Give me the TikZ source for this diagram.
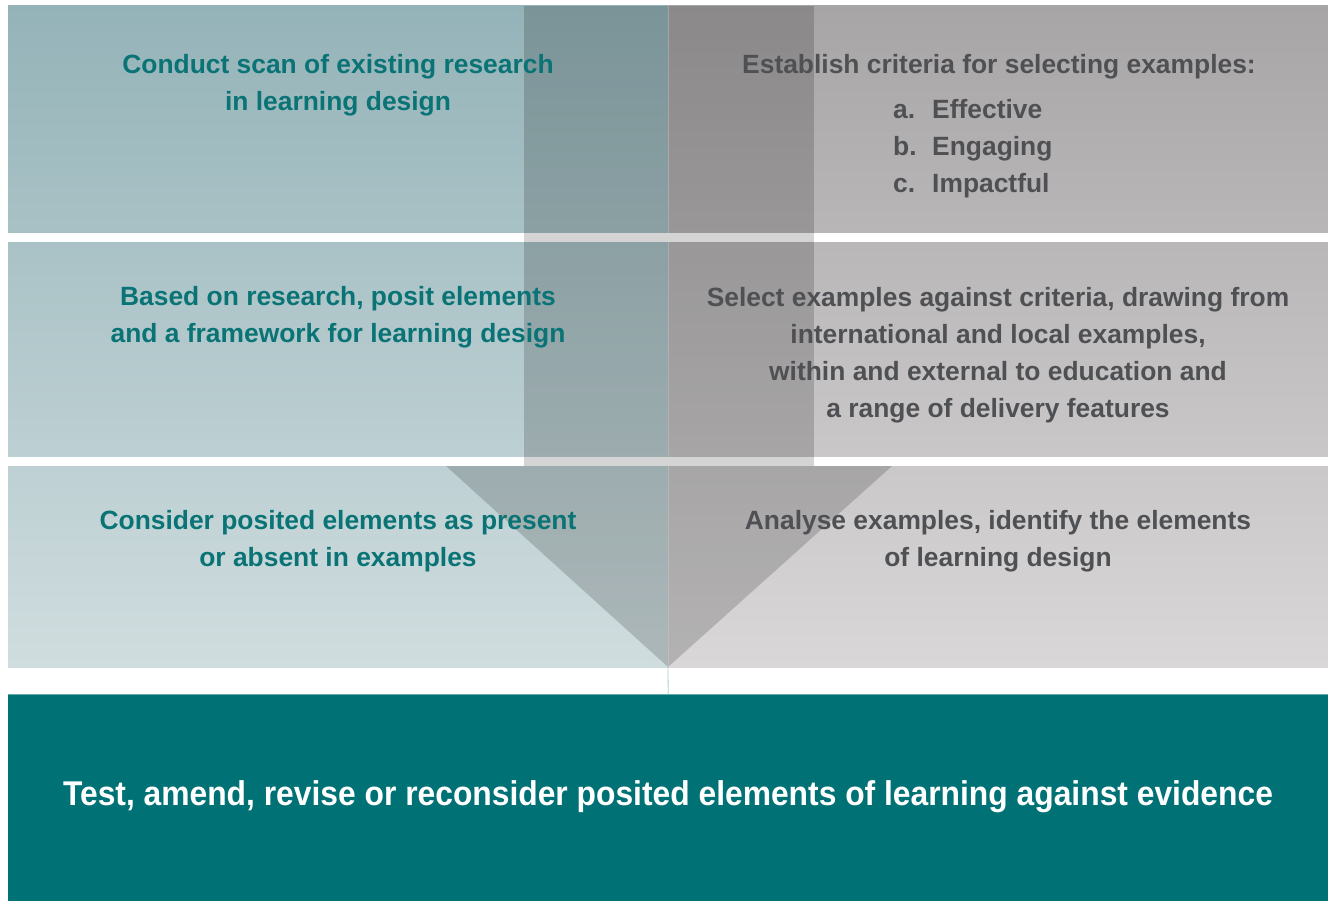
\documentclass[tikz,border=0pt]{standalone}
\usepackage{fontspec}
\usepackage{graphicx}
\setmainfont{Liberation Sans}
\definecolor{lefttop}{HTML}{94B3B8}
\definecolor{leftbot}{HTML}{D0DDDF}
\definecolor{righttop}{HTML}{A8A5A6}
\definecolor{rightbot}{HTML}{D9D7D8}
\definecolor{tealtext}{HTML}{0A7375}
\definecolor{graytext}{HTML}{4F5053}
\definecolor{tealbar}{HTML}{007275}
\definecolor{tipline}{HTML}{A9D0D3}
\tikzset{
  lefttext/.style={text=tealtext, font=\fontsize{26.4}{37}\selectfont\bfseries, align=center, inner sep=0pt},
  righttext/.style={text=graytext, font=\fontsize{26.4}{37}\selectfont\bfseries, align=center, inner sep=0pt},
  listtext/.style={text=graytext, font=\fontsize{26.4}{37}\selectfont\bfseries, align=left, inner sep=0pt, anchor=west},
  bartext/.style={text=white, font=\fontsize{31.8}{38}\selectfont\bfseries, inner sep=0pt},
  overlay/.style={fill=black, fill opacity=0.17},
}
\newcommand{\itm}[2]{\makebox[39pt][l]{#1}#2}
\begin{document}
\begin{tikzpicture}[x=1pt,y=-1pt]
\useasboundingbox (0,0) rectangle (1328,901);
\fill[white] (0,0) rectangle (1328,901);
% columns
\shade[top color=lefttop, bottom color=leftbot] (8,6) rectangle (668,667);
\shade[top color=righttop, bottom color=rightbot] (668,6) rectangle (1328,667);
% gaps between rows
\fill[white] (0,233) rectangle (1328,242);
\fill[white] (0,457) rectangle (1328,466);
% faint divider
\draw[white, opacity=0.35, line width=0.8pt] (668,6) -- (668,667);
% arrow overlay
\fill[overlay] (524,6) rectangle (814,466);
\coordinate (tip) at (668,667);
\fill[overlay] (446,466) -- (892,466) -- (tip) -- cycle;
% bottom bar
\node[fill=tealbar, minimum width=1320pt, minimum height=207pt, inner sep=0pt, anchor=north west] (bar) at (8,694) {};
\draw[tipline, line width=0.8pt] (tip) -- (bar.north);
\draw[tealbar!60!white, line width=0.8pt] (bar.north west) -- (bar.north east);
% texts
\node[lefttext] (l1) at (338,85.5) {Conduct scan of existing research\\in learning design};
\node[lefttext] (l2) at (338,317.5) {Based on research, posit elements\\and a framework for learning design};
\node[lefttext] (l3) at (338,541.5) {Consider posited elements as present\\or absent in examples};
\node[righttext] (r1) at (999,66.5) {Establish criteria for selecting examples:};
\node[listtext] (r1list) at (893,148.5) {\itm{a.}{Effective}\\\itm{b.}{Engaging}\\\itm{c.}{Impactful}};
\node[righttext] (r2) at (998,355.5) {Select examples against criteria, drawing from\\international and local examples,\\within and external to education and\\a range of delivery features};
\node[righttext] (r3) at (998,541.5) {Analyse examples, identify the elements\\of learning design};
\node[bartext] (bt) at (668,797) {\scalebox{1}[1.08]{Test, amend, revise or reconsider posited elements of learning against evidence}};
\end{tikzpicture}
\end{document}
